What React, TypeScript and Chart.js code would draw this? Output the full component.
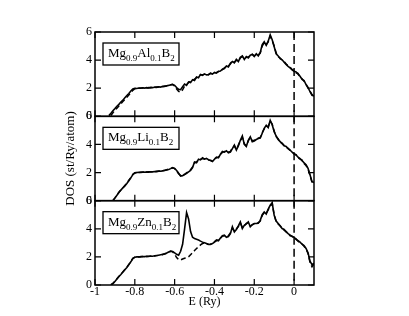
import { useEffect, useRef } from "react";
import { Chart, registerables } from "chart.js";

Chart.register(...registerables);

// Energy grid (Ry)
const energies = [
  -0.94, -0.93, -0.92, -0.91, -0.9, -0.89, -0.88, -0.87, -0.86, -0.85,
  -0.84, -0.83, -0.82, -0.81, -0.8, -0.79, -0.78, -0.77, -0.76, -0.75,
  -0.74, -0.73, -0.72, -0.71, -0.7, -0.69, -0.68, -0.67, -0.66, -0.65,
  -0.64, -0.63, -0.62, -0.61, -0.6, -0.59, -0.58, -0.57, -0.56, -0.55,
  -0.54, -0.53, -0.52, -0.51, -0.5, -0.49, -0.48, -0.47, -0.46, -0.45,
  -0.44, -0.43, -0.42, -0.41, -0.4, -0.39, -0.38, -0.37, -0.36, -0.35,
  -0.34, -0.33, -0.32, -0.31, -0.3, -0.29, -0.28, -0.27, -0.26, -0.25,
  -0.24, -0.23, -0.22, -0.21, -0.2, -0.19, -0.18, -0.17, -0.16, -0.15,
  -0.14, -0.13, -0.12, -0.11, -0.1, -0.09, -0.08, -0.07, -0.06, -0.05,
  -0.04, -0.03, -0.02, -0.01, 0.0, 0.01, 0.02, 0.03, 0.04, 0.05,
  0.06, 0.07, 0.08, 0.09, 0.1,
];

// Mg0.9Al0.1B2
const alSolid = [
  null, 0.05, 0.22, 0.4, 0.55, 0.72, 0.85, 1.02, 1.15, 1.32,
  1.48, 1.62, 1.8, 1.95, 2.0, 1.98, 2.02, 2.0, 2.03, 2.01,
  2.04, 2.02, 2.06, 2.04, 2.08, 2.06, 2.1, 2.08, 2.14, 2.12,
  2.18, 2.2, 2.24, 2.26, 2.2, 2.05, 1.92, 1.9, 2.1, 2.3,
  2.2, 2.45, 2.4, 2.6, 2.55, 2.8, 2.75, 2.98, 2.92, 3.02,
  2.95, 2.98, 3.05, 3.0, 3.12, 3.08, 3.2, 3.22, 3.35, 3.4,
  3.58, 3.52, 3.78, 3.9, 3.8, 4.05, 3.9, 4.2, 4.3, 4.05,
  4.25, 4.15, 4.35, 4.4, 4.25, 4.45, 4.3, 4.55, 5.1, 5.3,
  5.05, 5.35, 5.8, 5.45, 4.95, 4.45, 4.3, 4.1, 4.02, 3.85,
  3.7, 3.55, 3.45, 3.3, 3.2, 3.15, 3.0, 2.85, 2.62, 2.55,
  2.25, 2.05, 1.75, 1.5, 1.45,
];
const alDashed = [
  null, null, 0.05, 0.25, 0.42, 0.58, 0.74, 0.9, 1.05, 1.2,
  1.36, 1.52, 1.68, 1.85, 1.97, 1.99, 2.0, 2.02, 2.01, 2.03,
  2.02, 2.05, 2.04, 2.07, 2.06, 2.09, 2.08, 2.12, 2.1, 2.15,
  2.16, 2.22, 2.25, 2.28, 2.15, 1.95, 1.78, 1.72, 1.88, 2.15,
  2.25, 2.4, 2.5, 2.55, 2.65, 2.75, 2.82, 2.95, 2.95, 3.0,
  2.98, 2.95, 3.08, 3.02, 3.1, 3.12, 3.18, 3.25, 3.32, 3.45,
  3.55, 3.58, 3.72, 3.95, 3.85, 4.0, 3.95, 4.15, 4.25, 4.1,
  4.2, 4.22, 4.3, 4.42, 4.3, 4.4, 4.35, 4.5, 5.0, 5.25,
  5.1, 5.3, 5.7, 5.4, 5.0, 4.5, 4.25, 4.15, 4.0, 3.9,
  3.72, 3.6, 3.48, 3.35, 3.25, 3.1, 3.05, 2.8, 2.68, 2.5,
  2.3, 2.0, 1.8, 1.55, 1.4,
];

// Mg0.9Li0.1B2
const liSolid = [
  null, null, null, 0.0, 0.18, 0.38, 0.6, 0.75, 0.92, 1.05,
  1.22, 1.42, 1.62, 1.85, 1.98, 2.0, 2.02, 2.01, 2.03, 2.02,
  2.05, 2.03, 2.06, 2.05, 2.08, 2.07, 2.1, 2.09, 2.12, 2.15,
  2.18, 2.22, 2.28, 2.35, 2.3, 2.15, 1.95, 1.75, 1.78, 1.85,
  1.95, 2.05, 2.15, 2.35, 2.75, 2.7, 2.95, 2.9, 3.05, 2.95,
  3.0, 2.92, 2.85, 2.78, 2.95, 3.1, 3.05, 3.3, 3.5, 3.45,
  3.55, 3.4, 3.45, 3.7, 3.95, 3.6, 3.9, 4.3, 4.6, 4.0,
  3.85, 4.3, 4.55, 4.2, 4.25, 4.35, 4.42, 4.45, 4.8, 5.15,
  5.36, 5.2, 5.72, 5.4, 4.9, 4.6, 4.35, 4.2, 4.05, 3.9,
  3.85, 3.7, 3.6, 3.45, 3.35, 3.25, 3.1, 3.0, 2.85, 2.7,
  2.55, 2.3, 1.85, 1.35, 1.3,
];
const liDashed = [
  null, null, null, 0.02, 0.2, 0.4, 0.58, 0.77, 0.9, 1.08,
  1.25, 1.45, 1.65, 1.88, 1.97, 2.01, 2.0, 2.03, 2.02, 2.04,
  2.04, 2.05, 2.05, 2.07, 2.07, 2.09, 2.09, 2.11, 2.13, 2.16,
  2.2, 2.24, 2.3, 2.33, 2.28, 2.12, 1.92, 1.78, 1.8, 1.88,
  1.98, 2.08, 2.2, 2.4, 2.7, 2.75, 2.9, 2.95, 3.0, 2.98,
  2.97, 2.9, 2.88, 2.82, 2.98, 3.05, 3.1, 3.28, 3.45, 3.5,
  3.5, 3.45, 3.5, 3.75, 3.9, 3.65, 3.95, 4.25, 4.5, 4.05,
  3.9, 4.25, 4.5, 4.25, 4.3, 4.32, 4.45, 4.5, 4.85, 5.1,
  5.3, 5.25, 5.65, 5.45, 4.95, 4.55, 4.4, 4.15, 4.1, 3.92,
  3.8, 3.72, 3.58, 3.48, 3.32, 3.28, 3.05, 2.95, 2.88, 2.65,
  2.5, 2.25, 1.8, 1.3, 1.25,
];

// Mg0.9Zn0.1B2
const znSolid = [
  null, null, 0.0, 0.1, 0.25, 0.42, 0.6, 0.75, 0.92, 1.08,
  1.25, 1.45, 1.65, 1.88, 1.98, 2.0, 2.01, 2.0, 2.03, 2.02,
  2.04, 2.03, 2.06, 2.05, 2.08, 2.1, 2.12, 2.15, 2.18, 2.22,
  2.28, 2.35, 2.42, 2.38, 2.28, 2.18, 2.12, 2.4, 2.9, 4.0,
  5.15, 4.7, 3.8, 3.4, 3.3, 3.25, 3.2, 3.12, 3.05, 3.0,
  2.95, 2.9, 2.88, 2.95, 3.05, 3.2, 3.15, 3.35, 3.5, 3.55,
  3.4, 3.45, 3.65, 4.14, 3.78, 3.95, 4.2, 4.49, 4.02, 4.25,
  4.35, 4.49, 4.14, 4.3, 4.38, 4.38, 4.4, 4.6, 5.0, 5.2,
  5.05, 5.4, 5.67, 5.85, 4.96, 4.55, 4.38, 4.2, 4.02, 3.95,
  3.78, 3.65, 3.55, 3.45, 3.4, 3.25, 3.15, 3.05, 2.9, 2.8,
  2.6, 2.3, 1.7, 1.45, 1.55,
];
const znDashed = [
  null, null, 0.02, 0.12, 0.27, 0.44, 0.6, 0.77, 0.93, 1.1,
  1.27, 1.46, 1.66, 1.9, 1.97, 2.01, 2.0, 2.02, 2.02, 2.03,
  2.03, 2.04, 2.05, 2.06, 2.07, 2.09, 2.11, 2.14, 2.17, 2.2,
  2.25, 2.32, 2.4, 2.36, 2.2, 1.95, 1.8, 1.78, 1.85, 1.9,
  1.95, 2.0, 2.15, 2.3, 2.45, 2.6, 2.72, 2.85, 2.95, 3.0,
  2.92, 2.88, 2.9, 2.98, 3.08, 3.15, 3.2, 3.3, 3.48, 3.5,
  3.45, 3.5, 3.7, 4.05, 3.82, 3.98, 4.15, 4.42, 4.08, 4.22,
  4.38, 4.42, 4.2, 4.28, 4.35, 4.4, 4.42, 4.55, 4.95, 5.15,
  5.1, 5.35, 5.6, 5.8, 5.0, 4.5, 4.35, 4.22, 4.05, 3.9,
  3.8, 3.68, 3.5, 3.48, 3.35, 3.28, 3.12, 3.02, 2.92, 2.75,
  2.55, 2.25, 1.6, 1.3, 1.5,
];

const xTickValues = [-1, -0.8, -0.6, -0.4, -0.2, 0];
const xTickLabels = ["-1", "-0.8", "-0.6", "-0.4", "-0.2", "0"];
const yTickValues = [0, 2, 4, 6];
const yTickLabels = ["0", "2", "4", "6"];
const fermiLevel = 0;

// Panel labels: [base, sub, element, sub, boron, sub]
const alLabel = ["Mg", "0.9", "Al", "0.1", "B", "2"];
const liLabel = ["Mg", "0.9", "Li", "0.1", "B", "2"];
const znLabel = ["Mg", "0.9", "Zn", "0.1", "B", "2"];

const FONT = "'Liberation Serif', 'Times New Roman', serif";

const panels = [
  { id: "yAl", label: alLabel, solid: alSolid, dashed: alDashed },
  { id: "yLi", label: liLabel, solid: liSolid, dashed: liDashed },
  { id: "yZn", label: znLabel, solid: znSolid, dashed: znDashed },
];

const toPoints = (arr: (number | null)[]) =>
  energies.map((e, i) => ({ x: e, y: arr[i] }));

const framePlugin = {
  id: "panelFrames",
  beforeDatasetsDraw(chart: any) {
    const ctx = chart.ctx;
    const xs = chart.scales.x;
    const x0 = xs.getPixelForValue(fermiLevel);
    ctx.save();
    ctx.strokeStyle = "#000";
    ctx.lineWidth = 1.5;
    ctx.setLineDash([8, 4]);
    for (const p of panels) {
      const ys = chart.scales[p.id];
      ctx.beginPath();
      ctx.moveTo(x0, ys.top);
      ctx.lineTo(x0, ys.bottom);
      ctx.stroke();
    }
    ctx.restore();
  },
  afterDraw(chart: any) {
    const ctx = chart.ctx;
    const xs = chart.scales.x;
    const { left, right } = chart.chartArea;
    ctx.save();
    ctx.strokeStyle = "#000";
    ctx.fillStyle = "#000";
    ctx.setLineDash([]);
    for (const p of panels) {
      const ys = chart.scales[p.id];
      const top = ys.top;
      const bottom = ys.bottom;
      ctx.lineWidth = 1.5;
      ctx.strokeRect(left, top, right - left, bottom - top);
      ctx.lineWidth = 1.2;
      ctx.beginPath();
      for (const v of xTickValues) {
        const px = xs.getPixelForValue(v);
        ctx.moveTo(px, top);
        ctx.lineTo(px, top + 6);
        ctx.moveTo(px, bottom);
        ctx.lineTo(px, bottom - 6);
      }
      for (const v of yTickValues) {
        const py = ys.getPixelForValue(v);
        ctx.moveTo(left, py);
        ctx.lineTo(left + 6, py);
        ctx.moveTo(right, py);
        ctx.lineTo(right - 6, py);
      }
      ctx.stroke();

      // label box
      const bx = left + 8;
      const by = top + 11;
      const bw = 76;
      const bh = 22;
      ctx.lineWidth = 1.3;
      ctx.strokeRect(bx, by, bw, bh);
      const big = `13px ${FONT}`;
      const small = `9px ${FONT}`;
      let tx = bx + 5;
      const base = by + 14;
      ctx.textBaseline = "alphabetic";
      ctx.textAlign = "left";
      p.label.forEach((t, i) => {
        const isSub = i % 2 === 1;
        ctx.font = isSub ? small : big;
        ctx.fillText(t, tx, isSub ? base + 4 : base);
        tx += ctx.measureText(t).width;
      });
    }
    ctx.restore();
  },
};

export default function App() {
  const ref = useRef<HTMLCanvasElement>(null);
  useEffect(() => {
    if (!ref.current) return;
    const datasets: any[] = [];
    for (const p of panels) {
      datasets.push({
        data: toPoints(p.dashed),
        yAxisID: p.id,
        xAxisID: "x",
        borderColor: "#000",
        borderWidth: 1.5,
        borderDash: [5, 3],
        pointRadius: 0,
        fill: false,
        tension: 0,
      });
      datasets.push({
        data: toPoints(p.solid),
        yAxisID: p.id,
        xAxisID: "x",
        borderColor: "#000",
        borderWidth: 1.6,
        pointRadius: 0,
        fill: false,
        tension: 0,
      });
    }
    const yScale = (withTitle: boolean) => ({
      type: "linear",
      position: "left",
      stack: "dos",
      stackWeight: 1,
      min: 0,
      max: 6,
      grid: { display: false, drawTicks: false },
      border: { display: false },
      afterBuildTicks: (s: any) => {
        s.ticks = yTickValues.map((v) => ({ value: v }));
      },
      ticks: {
        autoSkip: false,
        color: "#000",
        padding: 3,
        font: { family: FONT, size: 12 },
        callback: (_v: any, i: number) => yTickLabels[i],
      },
      title: {
        display: withTitle,
        text: "DOS (st/Ry/atom)",
        color: "#000",
        font: { family: FONT, size: 13 },
      },
      afterFit: (s: any) => {
        s.width = 36;
      },
    });
    const chart = new Chart(ref.current, {
      type: "line",
      data: { datasets },
      options: {
        responsive: false,
        maintainAspectRatio: false,
        animation: false,
        devicePixelRatio: 1,
        layout: { padding: { left: 59, right: 95, top: 32, bottom: 0 } },
        plugins: { legend: { display: false }, tooltip: { enabled: false } },
        scales: {
          x: {
            type: "linear",
            min: -1,
            max: 0.1,
            grid: { display: false, drawTicks: false },
            border: { display: false },
            afterBuildTicks: (s: any) => {
              s.ticks = xTickValues.map((v) => ({ value: v }));
            },
            ticks: {
              autoSkip: false,
              maxRotation: 0,
              color: "#000",
              padding: 0,
              font: { family: FONT, size: 12 },
              callback: (_v: any, i: number) => xTickLabels[i],
            },
            title: {
              display: true,
              text: "E (Ry)",
              color: "#000",
              padding: { top: 0, bottom: 7 },
              font: { family: FONT, size: 12 },
            },
            afterFit: (s: any) => {
              s.height = 31;
            },
          },
          yZn: yScale(false),
          yLi: yScale(true),
          yAl: yScale(false),
        } as any,
      },
      plugins: [framePlugin],
    } as any);
    return () => chart.destroy();
  }, []);
  return (
    <div style={{ position: "fixed", left: 0, top: 0, width: 409, height: 316, background: "#fff" }}>
      <canvas ref={ref} width={409} height={316} style={{ display: "block" }} />
    </div>
  );
}
